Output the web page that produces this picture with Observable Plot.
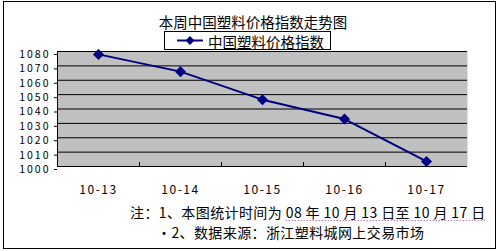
<!DOCTYPE html>
<html>
<head>
<meta charset="utf-8">
<script src="https://cdn.jsdelivr.net/npm/d3@7"></script>
<script src="https://cdn.jsdelivr.net/npm/@observablehq/plot@0.6"></script>
<style>
  html, body { margin: 0; padding: 0; background: #fff; }
  svg text { font-family: "Noto Sans CJK SC", sans-serif; }
</style>
</head>
<body>
<div id="chart"></div>
<script>
const title = "本周中国塑料价格指数走势图";
const seriesName = "中国塑料价格指数";
const dates = ["10-13", "10-14", "10-15", "10-16", "10-17"];
const values = [1078, 1066, 1046.5, 1033, 1003.5];
const yTicks = [1000, 1010, 1020, 1030, 1040, 1050, 1060, 1070, 1080];
const noteLine1a = "注：1、本图统计时间为 ";
const noteLine1b = "08 年 10 月 13 日至 10 月 17 日";
const noteLine2 = "·2、数据来源：浙江塑料城网上交易市场";

const data = dates.map((d, i) => ({i, date: d, value: values[i]}));
const bounds = dates.slice(1).map((d, i) => i + 0.5);

const W = 499, H = 251;
const navy = "#000080";

const chart = Plot.plot({
  width: W,
  height: H,
  marginLeft: 57,
  marginRight: 32,
  marginTop: 51,
  marginBottom: 85,
  style: {fontFamily: "'Noto Sans CJK SC', sans-serif", fontSize: "11px", background: "white", overflow: "visible"},
  x: {domain: [-0.5, dates.length - 0.5]},
  y: {domain: [1000, 1080]},
  marks: [
    Plot.frame({fill: "#c0c0c0", stroke: null}),
    Plot.ruleY(yTicks, {stroke: "black", strokeWidth: 1}),
    Plot.ruleX([-0.5], {stroke: "black", strokeWidth: 1}),
    Plot.tickX(bounds, {x: d => d, stroke: "black", insetTop: 111}),
    Plot.axisY({ticks: yTicks, tickSize: 3, tickPadding: 4, tickFormat: d => String(d), label: null, dy: 3, fill: "black", stroke: "black", strokeWidth: 1, fontSize: 10.5}),
    Plot.axisX({ticks: dates.map((d, i) => i), tickFormat: i => dates[i], tickSize: 0, tickPadding: 19, label: null, fill: "black", fontSize: 12}),
    Plot.line(data, {x: "i", y: "value", stroke: navy, strokeWidth: 2}),
    Plot.dot(data, {x: "i", y: "value", symbol: "diamond2", r: 4, fill: navy, stroke: navy})
  ]
});

document.getElementById("chart").appendChild(chart);

const svg = d3.select(chart);
const font = "'Noto Sans CJK SC', sans-serif";

svg.selectAll("g[aria-label='y-axis tick label'] text").style("letter-spacing", "2px");
svg.selectAll("g[aria-label='x-axis tick label'] text").style("letter-spacing", "1.5px");

// outer border
svg.append("rect")
  .attr("x", 3.5).attr("y", 1.5).attr("width", 492).attr("height", 247)
  .attr("fill", "none").attr("stroke", "black").attr("stroke-width", 1);

// title
svg.append("text")
  .attr("x", 253).attr("y", 21)
  .attr("text-anchor", "middle").attr("dominant-baseline", "central")
  .style("font-family", font).style("font-size", "14.5px").attr("fill", "black")
  .text(title);

// legend
const lg = svg.append("g");
lg.append("rect").attr("x", 164.5).attr("y", 31.5).attr("width", 166).attr("height", 18)
  .attr("fill", "white").attr("stroke", "black").attr("stroke-width", 1);
lg.append("line").attr("x1", 177).attr("x2", 203).attr("y1", 40.5).attr("y2", 40.5)
  .attr("stroke", navy).attr("stroke-width", 2);
lg.append("path").attr("d", d3.symbol(d3.symbolDiamond2, Math.PI * 16)())
  .attr("transform", "translate(190,40.5)").attr("fill", navy);
lg.append("text").attr("x", 208).attr("y", 41).attr("dominant-baseline", "central")
  .attr("text-anchor", "start")
  .style("font-family", font).style("font-size", "14.5px").attr("fill", "black")
  .text(seriesName);

// notes
const n1 = svg.append("text").attr("x", 130).attr("y", 212).attr("dominant-baseline", "central")
  .attr("text-anchor", "start")
  .style("font-family", font).style("font-size", "14px").style("letter-spacing", "0.4px").attr("fill", "black");
n1.append("tspan").text(noteLine1a);
n1.append("tspan").text(noteLine1b);
const node = n1.node();
const startLen = node.getSubStringLength(0, noteLine1a.length);
const totalLen = node.getComputedTextLength();
svg.append("line")
  .attr("x1", 130 + startLen).attr("x2", 130 + totalLen)
  .attr("y1", 220.5).attr("y2", 220.5)
  .attr("stroke", "#a040a0").attr("stroke-width", 1).attr("stroke-dasharray", "1,2");

svg.append("text").attr("x", 157).attr("y", 232).attr("dominant-baseline", "central")
  .attr("text-anchor", "start")
  .style("font-family", font).style("font-size", "14px").style("letter-spacing", "0.4px").attr("fill", "black")
  .text(noteLine2);
</script>
</body>
</html>
